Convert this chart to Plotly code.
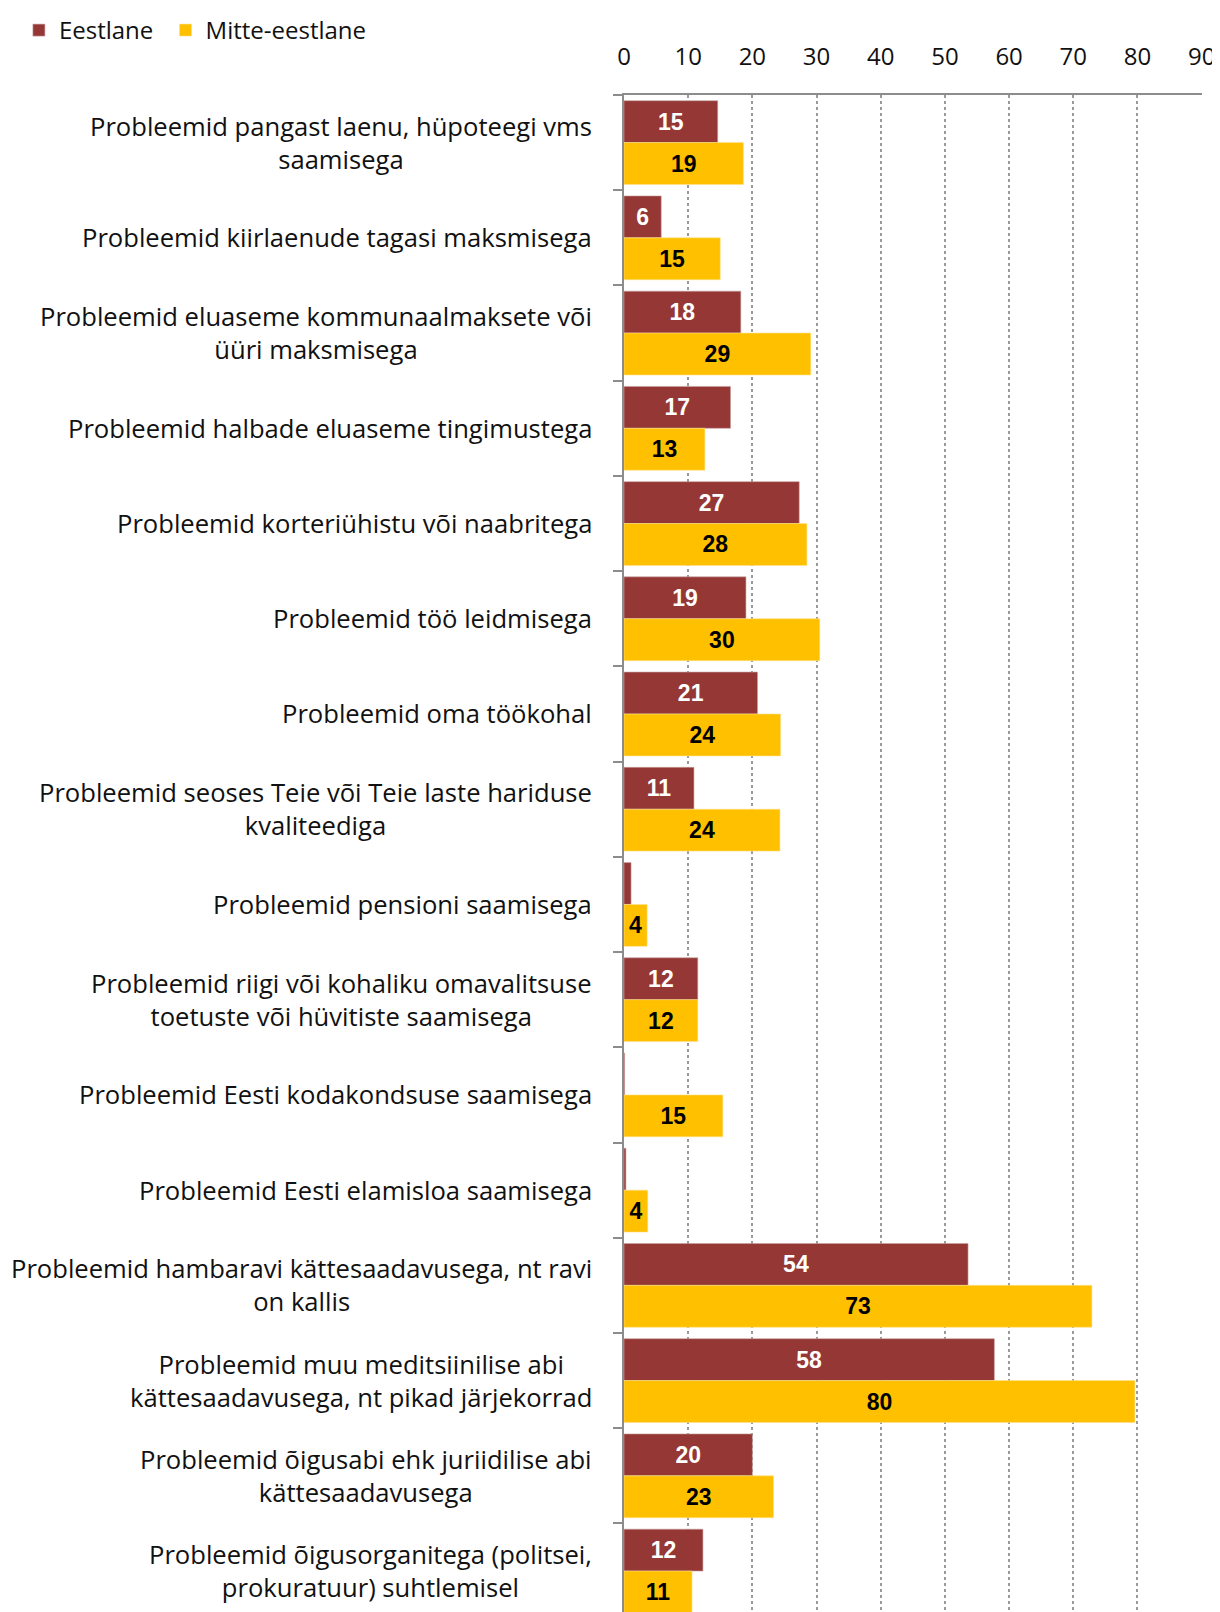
import plotly.graph_objects as go

# categories (line breaks as in the original chart)
categories = [
    "Probleemid pangast laenu, hüpoteegi vms<br>saamisega",
    "Probleemid kiirlaenude tagasi maksmisega",
    "Probleemid eluaseme kommunaalmaksete või<br>üüri maksmisega",
    "Probleemid halbade eluaseme tingimustega",
    "Probleemid korteriühistu või naabritega",
    "Probleemid töö leidmisega",
    "Probleemid oma töökohal",
    "Probleemid seoses Teie või Teie laste hariduse<br>kvaliteediga",
    "Probleemid pensioni saamisega",
    "Probleemid riigi või kohaliku omavalitsuse<br>toetuste või hüvitiste saamisega",
    "Probleemid Eesti kodakondsuse saamisega",
    "Probleemid Eesti elamisloa saamisega",
    "Probleemid hambaravi kättesaadavusega, nt ravi<br>on kallis",
    "Probleemid muu meditsiinilise abi<br>kättesaadavusega, nt pikad järjekorrad",
    "Probleemid õigusabi ehk juriidilise abi<br>kättesaadavusega",
    "Probleemid õigusorganitega (politsei,<br>prokuratuur) suhtlemisel",
]
eestlane = [14.6, 5.8, 18.2, 16.6, 27.3, 19.0, 20.8, 10.9, 1.1, 11.5, 0.1, 0.3, 53.6, 57.7, 20.0, 12.3]
mitte = [18.6, 15.0, 29.1, 12.6, 28.5, 30.5, 24.4, 24.3, 3.6, 11.5, 15.4, 3.7, 72.9, 79.6, 23.3, 10.6]
x_ticks = [0, 10, 20, 30, 40, 50, 60, 70, 80, 90]


def labels(vals):
    # Excel did not show labels on the tiny bars
    return [str(round(v)) if v >= 2 else "" for v in vals]


fig = go.Figure()
fig.add_trace(go.Bar(
    y=categories, x=eestlane, name="Eestlane", orientation="h",
    marker=dict(color="#953735", line=dict(color="#c9a3a2", width=0.6)),
    text=labels(eestlane), textposition="inside", insidetextanchor="middle",
    textfont=dict(family="Liberation Sans", size=23, color="white", weight="bold"),
    textangle=0, cliponaxis=False, showlegend=True, legend="legend",
))
fig.add_trace(go.Bar(
    y=categories, x=mitte, name="Mitte-eestlane", orientation="h",
    marker=dict(color="#FFC000", line=dict(color="#ffe08a", width=0.6)),
    text=labels(mitte), textposition="inside", insidetextanchor="middle",
    textfont=dict(family="Liberation Sans", size=23, color="black", weight="bold"),
    textangle=0, cliponaxis=False, showlegend=True, legend="legend2",
))

# category labels: centred multi-line text, right next to the axis
for c in categories:
    fig.add_annotation(
        x=0, xref="paper", y=c, yref="y", text=c, showarrow=False,
        xanchor="right", yanchor="middle", align="center", xshift=-30,
        font=dict(family="Open Sans", size=25.6, color="#111"),
    )

leg = dict(
    orientation="h", xref="container", yref="container",
    xanchor="left", y=1.0, yanchor="top",
    font=dict(family="Open Sans", size=24, color="#111"),
    itemwidth=30, bgcolor="rgba(0,0,0,0)", visible=True,
)

# page body has an 8px margin, so the figure starts at (8, 8)
fig.update_layout(
    width=1212, height=1604,
    margin=dict(l=616, r=18, t=87, b=0, autoexpand=False),
    plot_bgcolor="white", paper_bgcolor="white",
    barmode="group", bargap=0.12, bargroupgap=0,
    uniformtext=dict(minsize=8, mode="show"),
    font=dict(family="Open Sans", size=22, color="#111"),
    showlegend=True,
    legend=dict(leg, x=0.009),
    legend2=dict(leg, x=0.130),
)
fig.update_xaxes(
    side="top", range=[0, 90.05], tickvals=x_ticks, automargin=False,
    showline=True, linecolor="#8c8c8c", linewidth=2,
    showgrid=True, gridcolor="#9a9a9a", griddash="dot", gridwidth=1.5,
    zeroline=False, ticks="", ticklabelstandoff=18,
    tickfont=dict(family="Open Sans", size=24, color="#111"),
)
fig.update_yaxes(
    type="category", categoryorder="array", categoryarray=categories,
    range=[15.43, -0.5], showticklabels=False, automargin=False,
    showline=True, linecolor="#8c8c8c", linewidth=2,
    ticks="outside", tickson="boundaries", ticklen=9, tickcolor="#8c8c8c", tickwidth=2,
    showgrid=False, zeroline=False,
)

fig.write_html("out.html")
